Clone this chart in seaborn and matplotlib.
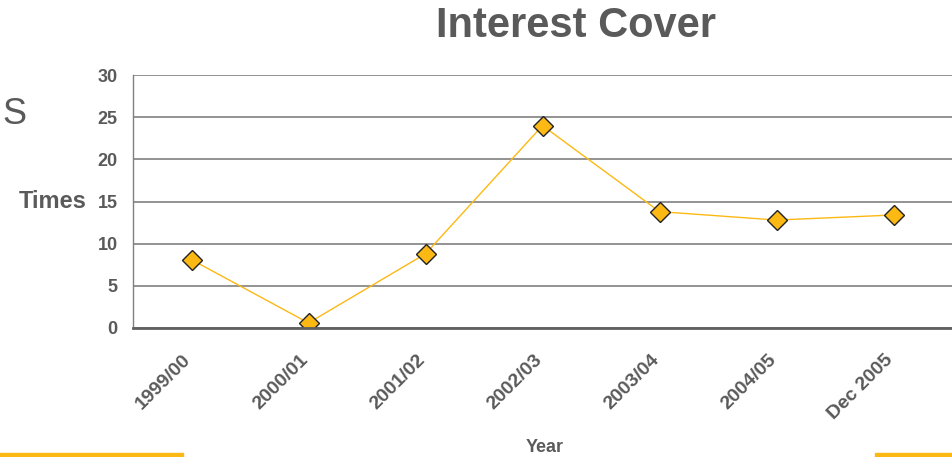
import matplotlib
matplotlib.use("Agg")
import matplotlib.pyplot as plt
import matplotlib.transforms as mtransforms
import seaborn as sns
import pandas as pd
from matplotlib.ticker import FixedLocator

years = ["1999/00", "2000/01", "2001/02", "2002/03", "2003/04", "2004/05", "Dec 2005"]
cover = [8.1, 0.6, 8.8, 24.0, 13.8, 12.8, 13.4]
y_ticks = [0, 5, 10, 15, 20, 25, 30]

sns.set_theme(style="white")
plt.rcParams['font.family'] = ['Liberation Sans', 'DejaVu Sans']

gray = "#5a5a5a"
gold = "#FDB913"

df = pd.DataFrame({"Year": years, "Times": cover})

fig = plt.figure(figsize=(9.52, 4.57), dpi=100)
ax = fig.add_axes([133/952, (457-328)/457, 1 - 133/952, (328-75)/457])

sns.lineplot(data=df, x="Year", y="Times", ax=ax, color=gold, linewidth=1.0,
             marker="D", markersize=10, markerfacecolor=gold,
             markeredgecolor="#222222", markeredgewidth=1.0, sort=False)

ax.set_xlim(-0.5, len(years) - 0.5)
ax.set_ylim(0, 30)
ax.set_yticks(y_ticks)
ax.yaxis.grid(True, color="#808080", linewidth=1.2)
ax.set_axisbelow(True)

for s in ["top", "right"]:
    ax.spines[s].set_visible(False)
ax.spines["left"].set_color("#808080")
ax.spines["left"].set_linewidth(1.0)
ax.spines["bottom"].set_color("#606060")
ax.spines["bottom"].set_linewidth(2.0)

ax.set_xticks(range(len(years)))
ax.set_xticklabels(years)
ax.tick_params(axis="x", which="major", length=0, pad=17)
ax.xaxis.set_minor_locator(FixedLocator([i - 0.5 for i in range(len(years) + 1)]))
ax.tick_params(axis="x", which="minor", length=6, color="#808080", width=1, direction="out")
ax.tick_params(axis="y", which="major", length=6, color="#808080", width=1, direction="out",
               labelsize=13, labelcolor=gray, pad=5)
offset = mtransforms.ScaledTranslation(-9/100, 0, fig.dpi_scale_trans)
for t in ax.get_xticklabels():
    t.set_rotation(45)
    t.set_ha("right")
    t.set_rotation_mode("anchor")
    t.set_fontsize(14)
    t.set_fontweight("bold")
    t.set_color(gray)
    t.set_transform(t.get_transform() + offset)
for t in ax.get_yticklabels():
    t.set_fontweight("bold")

ax.set_xlabel("")
ax.set_ylabel("")

fig.text(576/952, 1 - 26/457, "Interest Cover", ha="center", va="center",
         fontsize=30, fontweight="bold", color=gray)
fig.text(53/952, 1 - 201/457, "Times", ha="center", va="center",
         fontsize=17, fontweight="bold", color=gray)
fig.text(545/952, 1 - 447/457, "Year", ha="center", va="center",
         fontsize=13, fontweight="bold", color=gray)
fig.text(2/952, 1 - 115/457, "S", ha="left", va="center",
         fontsize=26, color=gray)

fig.patches.append(plt.Rectangle((0, 0), 183/952, 4/457, transform=fig.transFigure,
                                 color=gold, zorder=5))
fig.patches.append(plt.Rectangle((875/952, 0), 77/952, 4/457, transform=fig.transFigure,
                                 color=gold, zorder=5))

fig.savefig("out.png", dpi=100)
